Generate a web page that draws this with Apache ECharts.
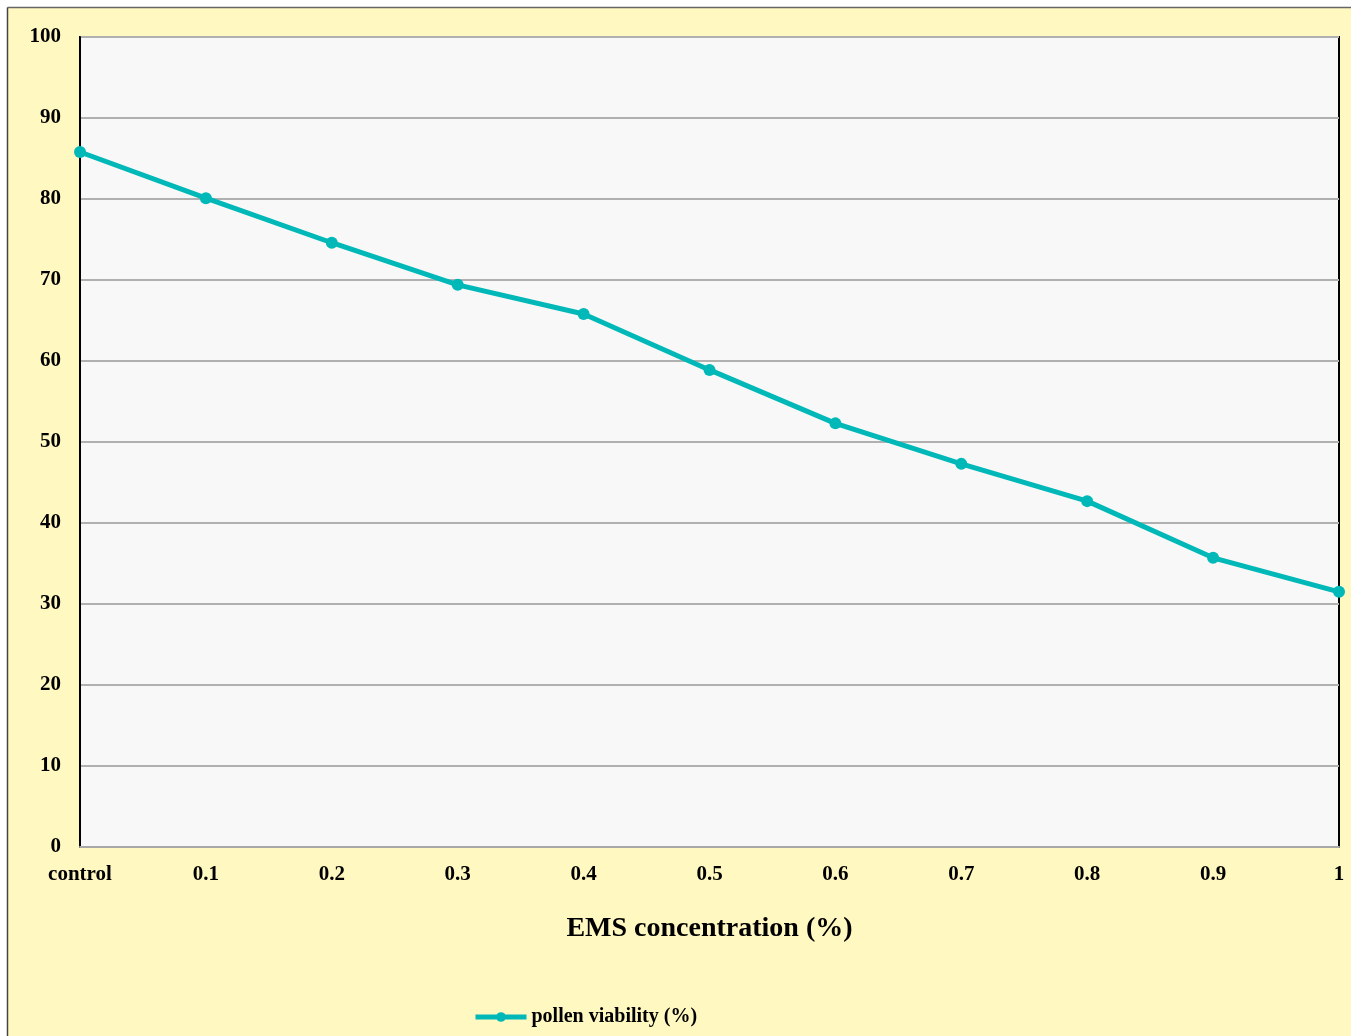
<!DOCTYPE html>
<html>
<head>
<meta charset="utf-8">
<script src="https://cdn.jsdelivr.net/npm/echarts@6/dist/echarts.min.js"></script>
<style>
html,body{margin:0;padding:0;background:#fff;}
#c{width:1351px;height:1036px;}
</style>
</head>
<body>
<div id="c"></div>
<script>
const categories = ['control','0.1','0.2','0.3','0.4','0.5','0.6','0.7','0.8','0.9','1'];
const viability = [85.8, 80.1, 74.6, 69.4, 65.8, 58.9, 52.3, 47.3, 42.7, 35.7, 31.5];
const seriesName = 'pollen viability (%)';
const xTitle = 'EMS concentration (%)';

const font = '"Liberation Serif", "Times New Roman", serif';
const teal = '#00B8B8';
const chart = echarts.init(document.getElementById('c'));
chart.setOption({
  backgroundColor: '#FFF8C0',
  animation: false,
  graphic: [
    {type:'rect', shape:{x:0,y:0,width:1351,height:7}, style:{fill:'#fff'}, silent:true},
    {type:'rect', shape:{x:0,y:0,width:7,height:1036}, style:{fill:'#fff'}, silent:true},
    {type:'line', shape:{x1:7.5,y1:7.5,x2:1351,y2:7.5}, style:{stroke:'#666',lineWidth:1.5}, silent:true},
    {type:'line', shape:{x1:7.5,y1:7.5,x2:7.5,y2:1036}, style:{stroke:'#444',lineWidth:1.5}, silent:true}
  ],
  grid: {
    left: 80, right: 12, top: 37, bottom: 189,
    show: true, backgroundColor: '#F8F8F8', borderColor: '#000', borderWidth: 2
  },
  legend: {
    left: 468, top: 1002,
    itemWidth: 51, itemHeight: 12, itemGap: 5,
    lineStyle: {width: 5},
    textStyle: {fontFamily: font, fontWeight: 'bold', fontSize: 20, color: '#000'},
    data: [seriesName]
  },
  xAxis: {
    type: 'category',
    data: categories,
    boundaryGap: false,
    axisLine: {show: true, lineStyle: {color: '#A8A8A8', width: 2}},
    axisTick: {show: false},
    axisLabel: {fontFamily: font, fontWeight: 'bold', fontSize: 21, color: '#000', margin: 17, interval: 0},
    name: xTitle,
    nameLocation: 'middle',
    nameGap: 68,
    nameTextStyle: {fontFamily: font, fontWeight: 'bold', fontSize: 28, color: '#000'}
  },
  yAxis: {
    type: 'value',
    min: 0, max: 100, interval: 10,
    axisLine: {show: true, lineStyle: {color: '#000', width: 2}},
    axisTick: {show: false},
    axisLabel: {fontFamily: font, fontWeight: 'bold', fontSize: 21, color: '#000', margin: 19},
    splitLine: {show: true, lineStyle: {color: '#B0B0B0', width: 2}}
  },
  series: [{
    name: seriesName,
    type: 'line',
    data: viability,
    symbol: 'circle',
    symbolSize: 12,
    lineStyle: {color: teal, width: 5},
    itemStyle: {color: teal},
    clip: false
  }]
});
</script>
</body>
</html>
